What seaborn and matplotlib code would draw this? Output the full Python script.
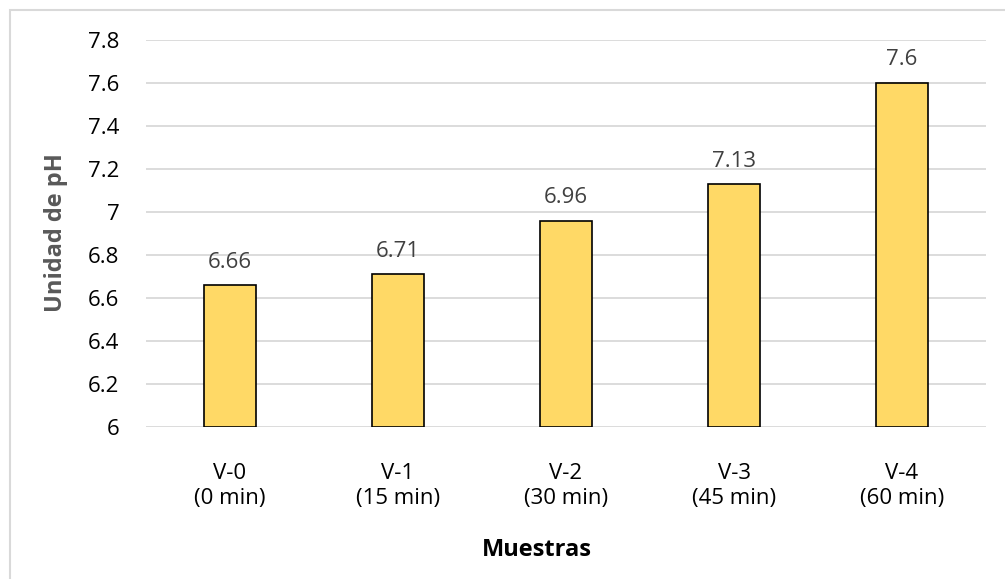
import matplotlib
matplotlib.use("Agg")
import matplotlib.pyplot as plt
import seaborn as sns
import pandas as pd
from matplotlib.patches import Rectangle

# Sample data: pH per sample
muestras = ["V-0", "V-1", "V-2", "V-3", "V-4"]
tiempos = ["(0 min)", "(15 min)", "(30 min)", "(45 min)", "(60 min)"]
ph = [6.66, 6.71, 6.96, 7.13, 7.6]
y_ticks = [6, 6.2, 6.4, 6.6, 6.8, 7, 7.2, 7.4, 7.6, 7.8]

etiquetas = [f"{m}\n{t}" for m, t in zip(muestras, tiempos)]
df = pd.DataFrame({"Muestra": etiquetas, "pH": ph})

sns.set_theme(style="white")
plt.rcParams["font.family"] = ["Open Sans", "DejaVu Sans"]

W, H = 1005, 579
fig = plt.figure(figsize=(W / 100, H / 100), dpi=100)
ax = fig.add_axes([146 / W, 1 - 427 / H, (986 - 146) / W, (427 - 40) / H])

sns.barplot(data=df, x="Muestra", y="pH", ax=ax, color="#FFD966",
            edgecolor="black", linewidth=1.2, width=0.315, saturation=1)

# Bars start at the axis floor of 6
for bar, v in zip(ax.patches, ph):
    bar.set_y(6)
    bar.set_height(v - 6)
    ax.text(bar.get_x() + bar.get_width() / 2, v + 0.107, f"{v:g}",
            ha="center", va="center", fontsize=16, color="#404040")

ax.set_ylim(6, 7.8)
ax.set_xlim(-0.5, len(ph) - 0.5)
ax.set_yticks(y_ticks)
ax.set_yticklabels([f"{t:g}" for t in y_ticks])
ax.yaxis.grid(True, color="#D9D9D9", linewidth=1.3)
ax.set_axisbelow(True)
for s in ax.spines.values():
    s.set_visible(False)
ax.tick_params(axis="y", length=0, pad=19, labelsize=16, labelcolor="#000000")
ax.tick_params(axis="x", length=0, pad=26, labelsize=16, labelcolor="#000000")
for lbl in ax.get_xticklabels():
    lbl.set_linespacing(1.25)

ax.set_xlabel("")
ax.set_ylabel("")
fig.text(56 / W, 1 - 233 / H, "Unidad de pH", rotation=90, ha="center", va="center",
         fontsize=17, fontweight="bold", color="#595959")
fig.text(537 / W, 1 - 550 / H, "Muestras", ha="center", va="center",
         fontsize=17, fontweight="bold", color="#000000")

# Chart frame
fig.patches.append(Rectangle((10 / W, -0.1), 1.2, 1 - 10 / H + 0.1, transform=fig.transFigure,
                             fill=False, edgecolor="#D9D9D9", linewidth=1.5))

fig.savefig("out.png", dpi=100, facecolor="white")
